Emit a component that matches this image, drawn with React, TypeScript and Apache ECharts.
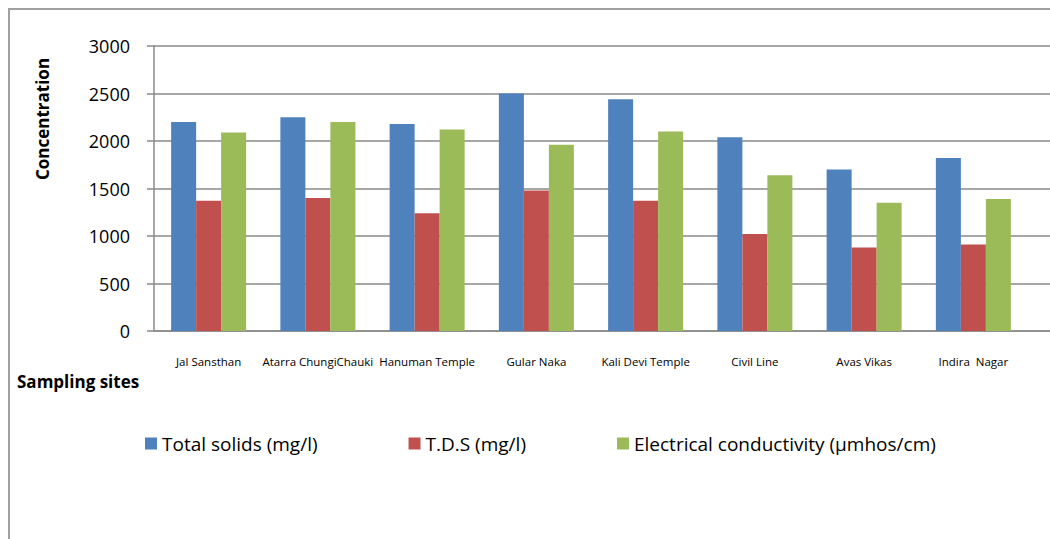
import React, { useEffect, useRef } from "react";
import * as echarts from "echarts";

const categories = [
  "Jal Sansthan",
  "Atarra ChungiChauki",
  "Hanuman Temple",
  "Gular Naka",
  "Kali Devi Temple",
  "Civil Line",
  "Avas Vikas",
  "Indira  Nagar",
];
const totalSolids = [2200, 2250, 2180, 2500, 2440, 2040, 1700, 1820];
const tds = [1370, 1400, 1240, 1480, 1370, 1020, 880, 910];
const conductivity = [2090, 2200, 2120, 1960, 2100, 1640, 1350, 1390];
const seriesNames = [
  "Total solids (mg/l)",
  "T.D.S (mg/l)",
  "Electrical conductivity (\u00b5mhos/cm)",
];
const colors = ["#4F81BD", "#C0504D", "#9BBB59"];
const yMin = 0;
const yMax = 3000;
const yInterval = 500;

const FONT = "'Open Sans', 'Liberation Sans', sans-serif";
const AXIS_COLOR = "#8a8a8a";

export default function App() {
  const ref = useRef<HTMLDivElement>(null);

  useEffect(() => {
    if (!ref.current) return;
    const chart = echarts.init(ref.current, null, { renderer: "svg" });
    const values = [totalSolids, tds, conductivity];
    chart.setOption({
      animation: false,
      textStyle: { fontFamily: FONT },
      grid: [
        { left: 144, right: 22, top: 36, bottom: 208, containLabel: false },
        { left: 144, right: 0, top: 36, bottom: 208, containLabel: false },
      ],
      legend: {
        left: 135,
        top: 424,
        padding: 0,
        itemWidth: 12,
        itemHeight: 12,
        itemGap: 91,
        icon: "rect",
        textStyle: { fontFamily: FONT, fontSize: 19, color: "#000" },
        data: seriesNames,
      },
      xAxis: [
        {
          type: "category",
          gridIndex: 0,
          data: categories,
          axisLine: { show: false },
          axisTick: { show: false },
          axisLabel: {
            interval: 0,
            margin: 24,
            fontSize: 11.5,
            color: "#000",
            fontFamily: FONT,
          },
        },
        {
          type: "value",
          gridIndex: 1,
          min: 0,
          max: 1,
          axisLine: { show: true, lineStyle: { color: AXIS_COLOR, width: 1.5 } },
          axisTick: { show: false },
          axisLabel: { show: false },
          splitLine: { show: false },
        },
      ],
      yAxis: [
        {
          type: "value",
          gridIndex: 0,
          min: yMin,
          max: yMax,
          interval: yInterval,
          axisLine: { show: true, lineStyle: { color: AXIS_COLOR, width: 1.5 } },
          axisTick: {
            show: true,
            inside: false,
            length: 7,
            lineStyle: { color: AXIS_COLOR, width: 1.5 },
          },
          axisLabel: {
            margin: 24,
            fontSize: 18,
            color: "#000",
            fontFamily: FONT,
            formatter: (v: number) => String(v),
          },
          splitLine: { show: false },
        },
        {
          type: "value",
          gridIndex: 1,
          min: yMin,
          max: yMax,
          interval: yInterval,
          axisLine: { show: false },
          axisTick: { show: false },
          axisLabel: { show: false },
          splitLine: { show: true, lineStyle: { color: AXIS_COLOR, width: 1.5 } },
        },
      ],
      series: values.map((v, i) => ({
        name: seriesNames[i],
        type: "bar",
        xAxisIndex: 0,
        yAxisIndex: 0,
        data: v,
        barWidth: 25,
        barGap: "0%",
        itemStyle: { color: colors[i] },
        z: 3,
      })),
      graphic: [
        {
          type: "text",
          x: 32,
          y: 109,
          rotation: Math.PI / 2,
          style: {
            text: "Concentration",
            fontFamily: FONT,
            fontWeight: "bold",
            fontSize: 17,
            fill: "#000",
            align: "center",
            verticalAlign: "middle",
          },
        },
        {
          type: "text",
          x: 7,
          y: 371,
          style: {
            text: "Sampling sites",
            fontFamily: FONT,
            fontWeight: "bold",
            fontSize: 17,
            fill: "#000",
            align: "left",
            verticalAlign: "middle",
          },
        },
      ],
    });
    return () => chart.dispose();
  }, []);

  return (
    <div
      style={{
        position: "fixed",
        left: 8,
        top: 8,
        width: 1042,
        height: 531,
        borderLeft: "2px solid #a0a0a0",
        borderTop: "2px solid #a0a0a0",
        boxSizing: "border-box",
        overflow: "hidden",
        background: "#fff",
      }}
    >
      <div ref={ref} style={{ width: 1040, height: 529 }} />
    </div>
  );
}
